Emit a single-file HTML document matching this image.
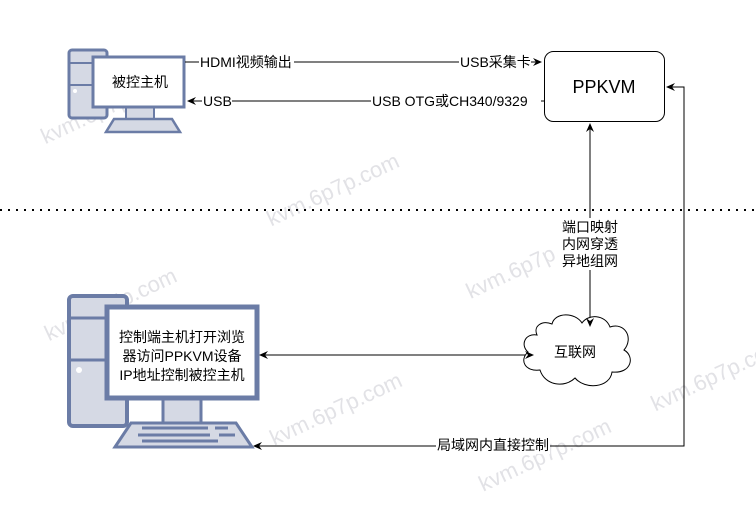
<!DOCTYPE html>
<html><head><meta charset="utf-8"><style>
html,body{margin:0;padding:0;background:#fff;width:756px;height:512px;overflow:hidden;}
svg{display:block;font-family:"Liberation Sans","Noto Sans CJK SC",sans-serif;}
</style></head><body>
<svg width="756" height="512" viewBox="0 0 756 512" xmlns="http://www.w3.org/2000/svg">
<g fill="#e2e2e6" font-size="22" transform="rotate(-25)">
<text x="-20" y="150">kvm.6p7p.com</text>
<text x="150" y="320">kvm.6p7p.com</text>
<text x="-100" y="330">kvm.6p7p.com</text>
<text x="60" y="520">kvm.6p7p.com</text>
<text x="300" y="470">kvm.6p7p.com</text>
<text x="230" y="650">kvm.6p7p.com</text>
<text x="420" y="650">kvm.6p7p.com</text>
</g>
<rect x="69" y="50" width="38" height="68" rx="3" fill="#d5d9e4" stroke="#6b7ca6" stroke-width="3"/>
<line x1="69" y1="63" x2="92" y2="63" stroke="#6b7ca6" stroke-width="2"/>
<line x1="69" y1="85" x2="92" y2="85" stroke="#6b7ca6" stroke-width="2"/>
<circle cx="75" cy="91" r="2" fill="#fff"/>
<rect x="126" y="107" width="28" height="12" fill="#d5d9e4" stroke="#6b7ca6" stroke-width="2"/>
<path d="M106,132 L114,119 L172,119 L180,132 Z" fill="#d5d9e4" stroke="#6b7ca6" stroke-width="2.5"/>
<rect x="93" y="57" width="91" height="50" fill="#fff" stroke="#6b7ca6" stroke-width="3"/>
<text x="140" y="87" font-size="14" text-anchor="middle">被控主机</text>
<rect x="69" y="296" width="58" height="130" rx="4" fill="#d5d9e4" stroke="#6b7ca6" stroke-width="4"/>
<line x1="69" y1="318" x2="106" y2="318" stroke="#6b7ca6" stroke-width="3"/>
<line x1="69" y1="360" x2="106" y2="360" stroke="#6b7ca6" stroke-width="3"/>
<circle cx="79" cy="370" r="3" fill="#fff"/>
<rect x="163" y="398" width="38" height="25" fill="#d5d9e4" stroke="#6b7ca6" stroke-width="3"/>
<path d="M115,447 L131,423 L236,423 L252,447 Z" fill="#d5d9e4" stroke="#6b7ca6" stroke-width="3"/>
<g stroke="#6b7ca6" stroke-width="3"><line x1="142" y1="428" x2="208" y2="428"/><line x1="215" y1="428" x2="228" y2="428"/><line x1="138" y1="435" x2="210" y2="435"/><line x1="219" y1="435" x2="235" y2="435"/><line x1="142" y1="441" x2="218" y2="441"/></g>
<rect x="107" y="307" width="150" height="91" fill="#fff" stroke="#6b7ca6" stroke-width="5"/>
<text x="182" y="342" font-size="14" text-anchor="middle">控制端主机打开浏览</text>
<text x="182" y="361" font-size="14" text-anchor="middle">器访问PPKVM设备</text>
<text x="182" y="380" font-size="14" text-anchor="middle">IP地址控制被控主机</text>
<rect x="544.5" y="51.5" width="120" height="70" rx="9" fill="#fff" stroke="#000"/>
<text x="604" y="93" font-size="18" text-anchor="middle">PPKVM</text>
<g stroke="#000" fill="none">
<line x1="185" y1="62" x2="538" y2="62"/>
<line x1="544" y1="101" x2="192" y2="101"/>
<line x1="590" y1="128" x2="590" y2="322"/>
<line x1="264" y1="355" x2="529" y2="355"/>
<polyline points="258,446 684,446 684,87 670,87"/>
</g>
<g fill="#000">
<path d="M542,62 L533,58 L536,62 L533,66 Z"/>
<path d="M187,101 L196,97 L193,101 L196,105 Z"/>
<path d="M590,123 L586,132 L590,129 L594,132 Z"/>
<path d="M259,355 L268,351 L265,355 L268,359 Z"/>
<path d="M253,446 L262,442 L259,446 L262,450 Z"/>
<path d="M666,87 L675,83 L672,87 L675,91 Z"/>
</g>
<rect x="199" y="53" width="95" height="18" fill="#fff"/>
<text x="200" y="67" font-size="14">HDMI视频输出</text>
<rect x="459" y="53" width="72" height="18" fill="#fff"/>
<text x="460" y="67" font-size="14">USB采集卡</text>
<rect x="202" y="92" width="30" height="18" fill="#fff"/>
<text x="203" y="106" font-size="14">USB</text>
<rect x="371" y="92" width="170" height="18" fill="#fff"/>
<text x="372" y="106" font-size="14">USB OTG或CH340/9329</text>
<line x1="0" y1="210" x2="756" y2="210" stroke="#000" stroke-width="2" stroke-dasharray="2,6"/>
<rect x="558" y="218" width="64" height="52" fill="#fff"/>
<text x="590" y="232" font-size="14" text-anchor="middle">端口映射</text>
<text x="590" y="249" font-size="14" text-anchor="middle">内网穿透</text>
<text x="590" y="266" font-size="14" text-anchor="middle">异地组网</text>
<path d="M537,335 C525,333 520,345 528,352 C519,360 525,372 540,370 C545,386 565,388 575,378 C585,390 610,388 612,372 C632,374 635,356 624,350 C634,338 625,322 610,327 C605,314 588,314 582,323 C575,312 555,312 552,324 C542,320 533,326 537,335 Z" fill="#fff" stroke="#000"/>
<path d="M590,327 L586,318 L590,321 L594,318 Z" fill="#000"/>
<path d="M534,355 L525,351 L528,355 L525,359 Z" fill="#000"/>
<text x="575" y="357" font-size="14" text-anchor="middle">互联网</text>
<rect x="436" y="436" width="114" height="18" fill="#fff"/>
<text x="437" y="450" font-size="14">局域网内直接控制</text>
</svg>
</body></html>
